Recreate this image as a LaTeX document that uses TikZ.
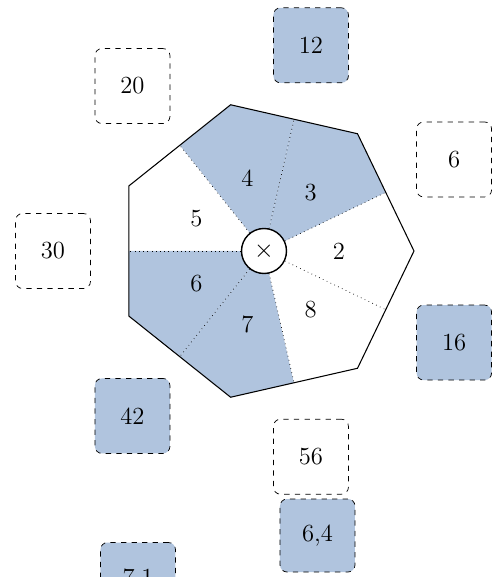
\documentclass[tikz,border=0pt]{standalone}
\usepackage{xcolor}
\usepackage{tikz}
\usetikzlibrary{positioning}
\definecolor{sectorblue}{HTML}{B0C4DE}
\def\R{3cm}
\def\apo{2.703cm}
\def\labR{1.5cm}
\def\boxR{4.22cm}
\def\half{25.714}
\newcommand{\sector}[3]{%
% #1 = angle of the corner, #2 = fill colour, #3 = label
\fill[#2] (0,0) -- ({#1-\half}:\apo) -- (#1:\R) -- ({#1+\half}:\apo) -- cycle;
\node[sectorlabel] (s#3) at (#1:\labR) {#3};
}

\begin{document}
\begin{tikzpicture}[
    font=\fontsize{14}{16}\selectfont,
    sectorlabel/.style={inner sep=0pt},
    numbox/.style={draw, dashed, rounded corners=4pt, minimum size=1.5cm, inner sep=0pt},
    shaded/.style={numbox, fill=sectorblue}
]
\useasboundingbox (-5.28,-6.52) rectangle (4.72,5.02);

% sectors
\sector{0}{white}{2}
\sector{51.43}{sectorblue}{3}
\sector{102.86}{sectorblue}{4}
\sector{154.29}{white}{5}
\sector{205.71}{sectorblue}{6}
\sector{257.14}{sectorblue}{7}
\sector{308.57}{white}{8}

% edge midpoints
\coordinate (m1) at (\half:\apo);
\coordinate (m2) at ({\half+51.43}:\apo);
\coordinate (m3) at ({\half+102.86}:\apo);
\coordinate (m4) at (180:\apo);
\coordinate (m5) at ({\half+205.71}:\apo);
\coordinate (m6) at ({\half+257.14}:\apo);
\coordinate (m7) at ({\half+308.57}:\apo);

\node[circle, draw, thick, fill=white, minimum size=0.9cm, inner sep=0pt] (c) at (0,0) {$\times$};

\draw[dotted] (c) -- (m1);
\draw[dotted] (c) -- (m2);
\draw[dotted] (c) -- (m3);
\draw[dotted] (c) -- (m4);
\draw[dotted] (c) -- (m5);
\draw[dotted] (c) -- (m6);
\draw[dotted] (c) -- (m7);

% outline
\draw[semithick, line join=miter] (0:\R) -- (51.43:\R) -- (102.86:\R) -- (154.29:\R)
  -- (205.71:\R) -- (257.14:\R) -- (308.57:\R) -- cycle;

% boxes round the outside
\node[numbox] (b6) at (\half:\boxR) {6};
\node[shaded] (b12) at ({\half+51.43}:\boxR) {12};
\node[numbox] (b20) at ({\half+102.86}:\boxR) {20};
\node[numbox] (b30) at (180:\boxR) {30};
\node[shaded] (b42) at ({\half+205.71}:\boxR) {42};
\node[numbox] (b56) at ({\half+257.14}:\boxR) {56};
\node[shaded] (b16) at ({\half+308.57}:\boxR) {16};
\node[shaded, minimum height=1.46cm] (b64) at (1.07,-5.69) {6,4};
\node[shaded] (b71) at (-2.52,-6.58) {7,1};
\end{tikzpicture}
\end{document}
